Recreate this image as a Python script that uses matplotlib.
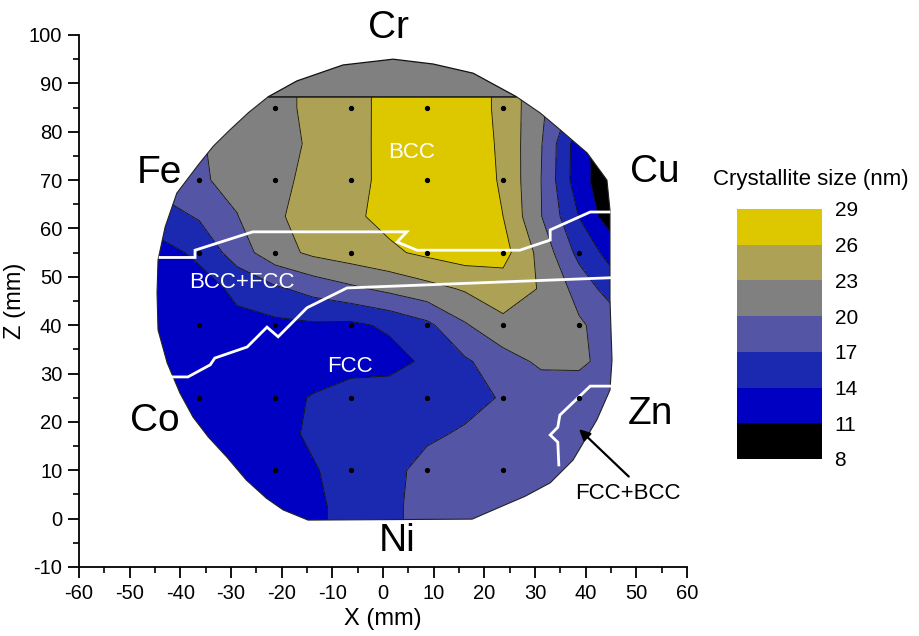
import numpy as np
import matplotlib
matplotlib.use("Agg")
import matplotlib.pyplot as plt
from matplotlib.colors import ListedColormap, BoundaryNorm
from matplotlib.patches import Polygon
from matplotlib.ticker import MultipleLocator
import matplotlib.colorbar as mcolorbar

plt.rcParams['font.family'] = ['Liberation Sans', 'DejaVu Sans']
plt.rcParams['axes.unicode_minus'] = False

# ---------------- data ----------------
grid_x = [-51.3, -43.8, -36.3, -28.8, -21.3, -13.8, -6.3, 1.2, 8.7, 16.2, 23.7, 31.2, 38.7, 46.2]
grid_y = [92.5, 85, 77.5, 70, 62.5, 55, 47.5, 40, 32.5, 25, 17.5, 10, 2.5, -5]
size_nm = [
    [17.0, 18.0, 19.4, 20.8, 22.2, 23.6, 25.2, 26.7, 27.8, 27.8, 25.2, 20.6, 15.0, 10.0],
    [17.0, 18.0, 19.4, 20.8, 22.2, 23.6, 25.2, 26.7, 27.8, 27.8, 25.2, 20.6, 15.5, 10.0],
    [17.5, 18.5, 19.8, 20.9, 22.0, 23.4, 25.1, 26.8, 28.0, 28.0, 25.4, 20.2, 12.2, 8.0],
    [17.0, 18.2, 19.6, 20.9, 22.3, 23.7, 25.2, 26.7, 28.0, 28.0, 25.6, 20.0, 12.1, 8.3],
    [14.5, 15.7, 17.3, 19.9, 22.6, 24.1, 25.5, 26.8, 28.0, 28.0, 26.0, 20.1, 13.9, 8.2],
    [12.5, 13.0, 14.6, 18.5, 21.8, 23.6, 24.6, 25.5, 26.6, 27.5, 27.1, 22.0, 16.1, 12.3],
    [12.0, 12.0, 12.8, 14.6, 16.5, 18.0, 19.4, 20.7, 22.0, 23.3, 24.5, 22.8, 18.9, 15.0],
    [12.0, 12.0, 12.3, 13.3, 13.3, 13.6, 13.4, 14.5, 16.3, 19.7, 22.3, 22.4, 20.4, 18.3],
    [12.0, 12.0, 12.0, 12.2, 12.3, 12.5, 12.8, 12.8, 14.6, 16.6, 18.6, 20.6, 20.5, 18.8],
    [12.2, 12.2, 12.2, 12.5, 13.0, 14.2, 15.4, 15.8, 15.8, 16.2, 17.2, 18.0, 18.5, 18.0],
    [12.3, 12.3, 12.3, 12.5, 13.2, 14.4, 15.2, 16.0, 16.6, 17.3, 18.2, 18.5, 18.5, 18.0],
    [12.5, 12.5, 12.5, 12.5, 13.0, 13.8, 15.0, 16.3, 17.8, 18.3, 18.6, 18.6, 18.4, 18.0],
    [12.8, 12.8, 12.8, 12.8, 12.8, 13.4, 15.0, 16.4, 18.0, 18.3, 18.5, 18.5, 18.4, 18.0],
    [12.8, 12.8, 12.8, 12.8, 12.8, 13.4, 15.0, 16.4, 18.0, 18.3, 18.5, 18.5, 18.4, 18.0],
]
levels = [8, 11, 14, 17, 20, 23, 26, 29]
level_colors = ["#000000", "#0000C2", "#1B29B0", "#5555A6", "#808080", "#ADA156", "#DDC800"]

# wafer outline (below the flat) and the cap above the flat
wafer_x = [26.4, 31.0, 34.3, 40.3, 44.2, 44.8, 44.8, 45.2, 44.8, 42.2, 37.5, 33.0, 28.0, 23.1, 17.6,
           -14.8, -19.7, -23.0, -27.0, -30.8, -34.5, -37.5, -40.1, -42.6, -44.4, -44.6, -44.4,
           -43.0, -40.7, -36.5, -33.5, -30.2, -26.5, -22.7]
wafer_y = [87.2, 83.9, 81.0, 75.6, 70.0, 63.8, 45.2, 32.8, 26.6, 20.4, 12.1, 7.4, 4.6, 2.4, -0.1,
           -0.3, 1.8, 4.2, 8.0, 12.7, 16.9, 21.0, 26.0, 32.2, 39.0, 46.7, 53.5,
           60.3, 67.3, 73.1, 77.0, 80.4, 84.0, 87.2]
cap_x = [-22.7, -17.0, -7.9, 2.0, 9.9, 17.8, 26.4]
cap_y = [87.2, 90.5, 93.8, 95.0, 94.0, 92.1, 87.2]

# measurement points
dot_rows_y = [85, 70, 55, 40, 25, 10]
dot_rows_x = [
    [-21.3, -6.3, 8.7, 23.7],
    [-36.3, -21.3, -6.3, 8.7, 23.7],
    [-36.3, -21.3, -6.3, 8.7, 23.7, 38.7],
    [-36.3, -21.3, -6.3, 8.7, 23.7, 38.7],
    [-36.3, -21.3, -6.3, 8.7, 23.7, 38.7],
    [-21.3, -6.3, 8.7, 23.7],
]

# phase boundaries
phase1_x = [-44.0, -37.1, -37.1, -25.7, 4.7, 2.8, 6.7, 27.0, 33.0, 33.0, 40.9, 44.6]
phase1_y = [54.0, 54.0, 55.5, 59.3, 59.3, 57.2, 55.5, 55.5, 57.6, 59.7, 63.4, 63.4]
phase2_x = [-42.0, -38.5, -34.1, -33.2, -26.8, -22.9, -20.7, -15.0, -7.1, 44.8]
phase2_y = [29.3, 29.3, 31.8, 33.2, 35.5, 39.6, 37.6, 43.6, 47.7, 49.8]
phase3_x = [44.8, 40.9, 34.9, 34.5, 33.0, 34.5, 34.7]
phase3_y = [27.4, 27.4, 21.4, 18.9, 17.3, 15.8, 11.1]

# ---------------- figure ----------------
W, H = 919, 636
fig = plt.figure(figsize=(W / 100, H / 100), dpi=100)
ax = fig.add_axes([79 / W, (H - 567) / H, 608 / W, 532 / H])
ax.set_xlim(-60, 60)
ax.set_ylim(-10, 100)

gx = np.array(grid_x)
gy = np.array(grid_y)[::-1]
Z = np.array(size_nm)[::-1]

wafer = Polygon(np.column_stack([wafer_x, wafer_y]), closed=True,
                facecolor='none', edgecolor='none')
ax.add_patch(wafer)

cf = ax.contourf(gx, gy, Z, levels=levels, colors=level_colors)
cf.set_clip_path(wafer)
cl = ax.contour(gx, gy, Z, levels=levels[1:-1], colors='#111111', linewidths=0.6)
cl.set_clip_path(wafer)

ax.add_patch(Polygon(np.column_stack([cap_x, cap_y]), closed=True,
                     facecolor=level_colors[4], edgecolor='#111111', lw=0.9, zorder=3))
ax.add_patch(Polygon(np.column_stack([wafer_x, wafer_y]), closed=True,
                     facecolor='none', edgecolor='#222222', lw=0.8, zorder=3))

for yy, xs in zip(dot_rows_y, dot_rows_x):
    ax.plot(xs, [yy] * len(xs), 'o', color='k', ms=2.8, zorder=5)

for px_, py_ in [(phase1_x, phase1_y), (phase2_x, phase2_y), (phase3_x, phase3_y)]:
    ax.plot(px_, py_, color='white', lw=2.0, zorder=4, solid_joinstyle='miter')

# text labels
big = 28
ax.text(1.0, 101.4, 'Cr', fontsize=big, ha='center', va='center', clip_on=False)
ax.text(-44.2, 71.5, 'Fe', fontsize=big, ha='center', va='center')
ax.text(53.7, 71.7, 'Cu', fontsize=big, ha='center', va='center')
ax.text(-45.0, 20.2, 'Co', fontsize=big, ha='center', va='center')
ax.text(52.7, 21.6, 'Zn', fontsize=big, ha='center', va='center')
ax.text(2.8, -4.6, 'Ni', fontsize=big, ha='center', va='center')

ax.text(5.7, 75.8, 'BCC', fontsize=16, color='white', ha='center', va='center', zorder=6)
ax.text(-27.8, 48.9, 'BCC+FCC', fontsize=16, color='white', ha='center', va='center', zorder=6)
ax.text(-6.5, 31.4, 'FCC', fontsize=16, color='white', ha='center', va='center', zorder=6)
ax.text(48.4, 5.3, 'FCC+BCC', fontsize=16, color='black', ha='center', va='center', zorder=6)
ax.annotate('', xy=(38.3, 18.9), xytext=(48.9, 8.3),
            arrowprops=dict(arrowstyle='-|>', color='black', lw=1.6, mutation_scale=16),
            zorder=6)

# axes styling
for s in ['top', 'right']:
    ax.spines[s].set_visible(False)
for s in ['left', 'bottom']:
    ax.spines[s].set_linewidth(1.3)
ax.xaxis.set_major_locator(MultipleLocator(10))
ax.xaxis.set_minor_locator(MultipleLocator(5))
ax.yaxis.set_major_locator(MultipleLocator(10))
ax.yaxis.set_minor_locator(MultipleLocator(5))
ax.tick_params(which='major', direction='out', length=8, width=1.3, labelsize=14.5, pad=4)
ax.tick_params(which='minor', direction='out', length=4.5, width=1.2)
ax.set_xlabel('X (mm)', fontsize=17, labelpad=4)
ax.set_ylabel('Z (mm)', fontsize=17, labelpad=2)

# colour scale
cax = fig.add_axes([737 / W, (H - 459) / H, 85 / W, 250 / H])
cb = mcolorbar.ColorbarBase(cax, cmap=ListedColormap(level_colors),
                            norm=BoundaryNorm(levels, len(level_colors)),
                            boundaries=levels, ticks=levels, spacing='uniform')
cb.outline.set_visible(False)
cax.tick_params(length=0, labelsize=15, pad=9)
fig.text(811 / W, 1 - 180 / H, 'Crystallite size (nm)', fontsize=16,
         ha='center', va='center')

fig.savefig('out.png', dpi=100)
